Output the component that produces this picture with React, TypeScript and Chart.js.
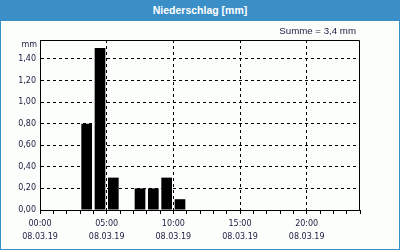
import React, { useEffect, useRef } from "react";
import { Chart, registerables } from "chart.js";

Chart.register(...registerables);

const hours = [0, 1, 2, 3, 4, 5, 6, 7, 8, 9, 10, 11, 12, 13, 14, 15, 16, 17, 18, 19, 20, 21, 22, 23];
const precipitation = [0, 0, 0, 0.8, 1.5, 0.3, 0, 0.2, 0.2, 0.3, 0.1, 0, 0, 0, 0, 0, 0, 0, 0, 0, 0, 0, 0, 0];
const dateLabel = "08.03.19";
const titleText = "Niederschlag [mm]";
const sumText = "Summe = 3,4 mm";
const unitText = "mm";

const BLUE = "#3b8fc7";
const TEXT = "#1a1a40";

export default function App() {
  const ref = useRef<HTMLCanvasElement | null>(null);

  useEffect(() => {
    document.body.style.margin = "0";
    if (!ref.current) return;
    const boxPlugin = {
      id: "box",
      afterDraw(chart: any) {
        const { ctx, chartArea } = chart;
        const l = Math.round(chartArea.left) + 0.5;
        const r = Math.round(chartArea.right) - 0.5;
        const t = Math.round(chartArea.top) + 0.5;
        ctx.save();
        ctx.strokeStyle = "#000";
        ctx.lineWidth = 1;
        ctx.setLineDash([]);
        ctx.beginPath();
        ctx.moveTo(l, t);
        ctx.lineTo(r, t);
        ctx.lineTo(r, Math.round(chartArea.bottom));
        ctx.stroke();
        ctx.fillStyle = TEXT;
        ctx.font = "8px 'DejaVu Sans'";
        ctx.textAlign = "right";
        ctx.textBaseline = "middle";
        ctx.fillText(unitText, chartArea.left - 3, chartArea.top + 5);
        ctx.restore();
      },
    };
    const chart = new Chart(ref.current, {
      type: "bar",
      data: {
        datasets: [
          {
            data: hours.map((h, i) => ({ x: h + 0.5, y: precipitation[i] })),
            backgroundColor: "#000",
            borderWidth: 0,
            barPercentage: 0.8,
            categoryPercentage: 1,
          },
        ],
      },
      options: {
        animation: false,
        responsive: false,
        maintainAspectRatio: false,
        layout: { padding: { top: 40, left: 0, right: 40, bottom: 0 } },
        plugins: { legend: { display: false }, tooltip: { enabled: false }, title: { display: false } },
        scales: {
          x: {
            type: "linear",
            min: 0,
            max: 24,
            offset: false,
            afterFit(scale: any) {
              scale.height = 40;
            },
            ticks: {
              stepSize: 1,
              autoSkip: false,
              maxRotation: 0,
              minRotation: 0,
              padding: 3,
              color: TEXT,
              font: { family: "'DejaVu Sans'", size: 8, lineHeight: 1.7 },
              callback: (v: any) => {
                const n = Number(v);
                if (n % 5 === 0 && n < 24) {
                  return [String(n).padStart(2, "0") + ":00", dateLabel];
                }
                return "";
              },
            },
            grid: {
              offset: false,
              drawTicks: true,
              tickLength: 4,
              tickColor: "#000",
              color: (c: any) => {
                const v = c.tick ? c.tick.value : 0;
                return v % 5 === 0 && v > 0 && v < 24 ? "#000" : "rgba(0,0,0,0)";
              },
            },
            border: { display: true, color: "#000", width: 1, dash: [3, 3] },
          },
          y: {
            min: 0,
            max: 1.575,
            afterFit(scale: any) {
              scale.width = 40;
            },
            ticks: {
              stepSize: 0.2,
              includeBounds: false,
              padding: 4,
              color: TEXT,
              font: { family: "'DejaVu Sans'", size: 8 },
              callback: (v: any) => Number(v).toFixed(2).replace(".", ","),
            },
            grid: {
              drawTicks: false,
              color: (c: any) => (c.tick && c.tick.value > 0 ? "#000" : "rgba(0,0,0,0)"),
            },
            border: { display: true, color: "#000", width: 1, dash: [3, 3] },
          },
        },
      },
      plugins: [boxPlugin],
    });
    return () => chart.destroy();
  }, []);

  return (
    <div
      style={{
        position: "fixed",
        left: 0,
        top: 0,
        width: 400,
        height: 250,
        background: "#fcfefc",
        overflow: "hidden",
      }}
    >
      <canvas ref={ref} width={400} height={250} style={{ position: "absolute", left: 0, top: 0 }} />
      <div
        style={{
          position: "absolute",
          left: 0,
          top: 0,
          width: 400,
          height: 21,
          background: BLUE,
          color: "#fff",
          font: "bold 10.5px 'Liberation Sans'",
          lineHeight: "21px",
          textAlign: "center",
        }}
      >
        {titleText}
      </div>
      <div
        style={{
          position: "absolute",
          left: 0,
          top: 0,
          width: 400,
          height: 250,
          boxSizing: "border-box",
          borderLeft: `1px solid ${BLUE}`,
          borderRight: `1px solid ${BLUE}`,
          borderBottom: `1px solid ${BLUE}`,
          pointerEvents: "none",
        }}
      />
      <div
        style={{
          position: "absolute",
          right: 44,
          top: 25,
          color: TEXT,
          font: "9.7px 'Liberation Sans'",
          lineHeight: "12px",
          whiteSpace: "nowrap",
        }}
      >
        {sumText}
      </div>
    </div>
  );
}
